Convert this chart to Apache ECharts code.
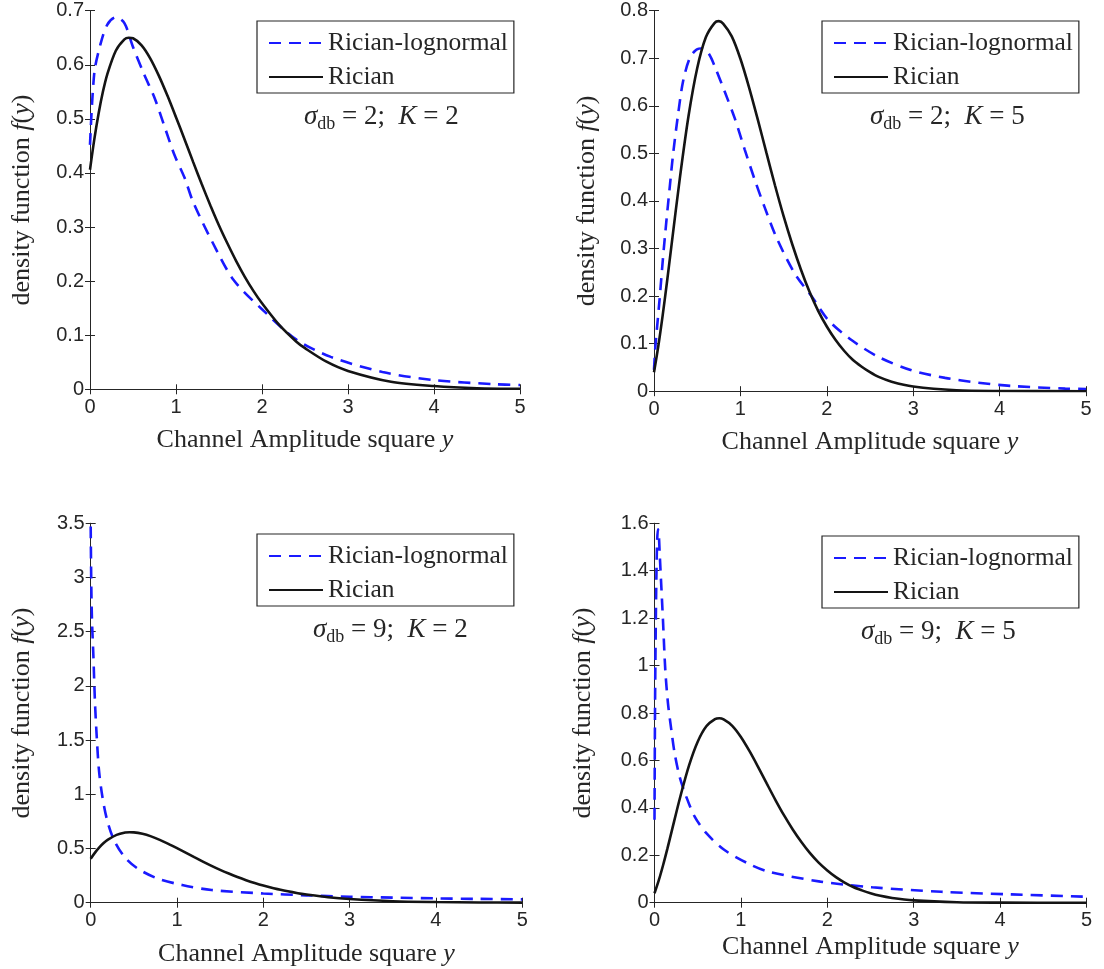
<!DOCTYPE html>
<html><head><meta charset="utf-8">
<script src="https://cdn.jsdelivr.net/npm/echarts@6/dist/echarts.min.js"></script>
<style>html,body{margin:0;padding:0;background:#fff;}#c{width:1104px;height:969px;}</style>
</head><body><div id="c"></div>
<script>
// ---- data ----
const ricianK2X = [0,0.05,0.1,0.15,0.2,0.3,0.4,0.45,0.5,0.6,0.7,0.8,0.9,1.0,1.1,1.2,1.3,1.4,1.5,1.6,1.7,1.8,1.9,2.0,2.2,2.4,2.5,2.75,3.0,3.5,4.0,4.5,5.0];
const ricianK2Y = [0.406,0.462,0.510,0.550,0.582,0.626,0.647,0.650,0.649,0.636,0.612,0.580,0.543,0.503,0.462,0.420,0.379,0.340,0.303,0.269,0.237,0.208,0.182,0.159,0.119,0.088,0.076,0.051,0.034,0.014,0.006,0.002,0.001];
const ricianK5X = [0,0.05,0.1,0.15,0.2,0.3,0.4,0.5,0.6,0.7,0.75,0.8,0.9,1.0,1.1,1.2,1.3,1.4,1.5,1.6,1.7,1.8,1.9,2.0,2.1,2.2,2.3,2.4,2.5,2.6,2.75,3.0,3.5,4.0,5.0];
const ricianK5Y = [0.040,0.095,0.159,0.229,0.303,0.449,0.579,0.679,0.744,0.774,0.778,0.773,0.746,0.699,0.639,0.572,0.502,0.433,0.368,0.309,0.256,0.209,0.169,0.136,0.108,0.085,0.066,0.052,0.040,0.030,0.020,0.010,0.002,0.0004,0];
const rlnS2K2X = [0,0.05,0.12,0.2,0.3,0.4,0.5,0.63,0.75,0.86,0.98,1.1,1.2,1.43,1.67,2.0,2.4,2.8,3.4,4.0,4.7,5.0];
const rlnS2K2Y = [0.452,0.585,0.637,0.674,0.688,0.677,0.633,0.582,0.539,0.489,0.434,0.391,0.346,0.270,0.202,0.148,0.092,0.060,0.032,0.017,0.0095,0.008];
const rlnS2K5X = [0,0.015,0.066,0.104,0.143,0.181,0.22,0.278,0.336,0.413,0.49,0.567,0.64,0.703,0.818,0.934,1.05,1.165,1.28,1.42,1.63,1.83,2.02,2.29,2.6,2.98,3.37,3.75,4.14,4.76,5.0];
const rlnS2K5Y = [0.045,0.091,0.196,0.280,0.357,0.427,0.497,0.581,0.651,0.700,0.718,0.721,0.708,0.683,0.630,0.574,0.508,0.445,0.387,0.322,0.247,0.198,0.149,0.107,0.072,0.044,0.028,0.018,0.011,0.0055,0.0045];
const rlnS9K2X = [0,0.007,0.015,0.03,0.05,0.07,0.096,0.135,0.19,0.27,0.39,0.54,0.77,1.06,1.4,2.0,2.5,3.0,3.5,4.0,4.5,5.0];
const rlnS9K2Y = [3.47,2.92,2.6,2.30,1.84,1.53,1.22,0.98,0.763,0.578,0.424,0.317,0.225,0.163,0.117,0.085,0.068,0.055,0.047,0.040,0.035,0.031];
const rlnS9K5X = [0,0.005,0.01,0.02,0.03,0.04,0.05,0.06,0.079,0.098,0.125,0.156,0.195,0.233,0.291,0.368,0.465,0.6,0.81,1.08,1.32,1.92,2.52,3.32,4.13,5.0];
const rlnS9K5Y = [0.35,0.75,1.0,1.33,1.52,1.575,1.55,1.474,1.333,1.192,0.981,0.841,0.728,0.630,0.531,0.447,0.363,0.293,0.222,0.166,0.131,0.089,0.065,0.046,0.035,0.025];

const panelSigma = [2, 2, 9, 9];
const panelK = [2, 5, 2, 5];
const yMaxes = [0.7, 0.8, 3.5, 1.6];
const yIntervals = [0.1, 0.1, 0.5, 0.2];
const xTickMax = 5, xTickStep = 1;
const seriesNames = ['Rician-lognormal', 'Rician'];
const blueData = [[rlnS2K2X, rlnS2K2Y], [rlnS2K5X, rlnS2K5Y], [rlnS9K2X, rlnS9K2Y], [rlnS9K5X, rlnS9K5Y]];
const blackData = [[ricianK2X, ricianK2Y], [ricianK5X, ricianK5Y], [ricianK2X, ricianK2Y], [ricianK5X, ricianK5Y]];

// ---- layout / style ----
const zip = (xs, ys) => xs.map((x, i) => [x, ys[i]]);
const AX = '#262626';
const SERIF = '"Liberation Serif", "Times New Roman", serif';
const SANS = '"Liberation Sans", Arial, Helvetica, sans-serif';
const grids = [
  {left: 90, top: 10.7, width: 430, height: 378.6},
  {left: 654, top: 10.7, width: 432, height: 380.5},
  {left: 90.7, top: 523.3, width: 431.5, height: 379.4},
  {left: 654.5, top: 523.3, width: 432, height: 379.4}
];
const xNameGap = [38, 38, 38, 31];
const yNameGap = [55, 54, 56, 58];
const legendPos = [{left: 257, top: 21}, {left: 822, top: 21}, {left: 257, top: 534}, {left: 822, top: 536}];
const annPos = [[304, 117], [870, 117], [313, 630], [861, 632]];

const xAxes = [], yAxes = [], series = [], legends = [], graphics = [];
const tick = {show: true, inside: true, length: 5, lineStyle: {color: AX, width: 1}};
const line = {show: true, lineStyle: {color: AX, width: 1}};
const nameRich = {i: {fontStyle: 'italic', fontFamily: SERIF, fontSize: 26, color: AX}};

grids.forEach((g, i) => {
  xAxes.push({
    type: 'value', gridIndex: i, min: 0, max: xTickMax, interval: xTickStep, position: 'bottom',
    axisLine: line, axisTick: tick, splitLine: {show: false},
    axisLabel: {fontFamily: SANS, fontSize: 20, color: AX, margin: 8},
    name: 'Channel Amplitude square {i|y}', nameLocation: 'middle', nameGap: xNameGap[i],
    nameTextStyle: {fontFamily: SERIF, fontSize: 26, color: AX, rich: nameRich}
  });
  xAxes.push({
    type: 'value', gridIndex: i, min: 0, max: xTickMax, interval: xTickStep, position: 'top',
    axisLine: line, axisTick: tick, splitLine: {show: false}, axisLabel: {show: false}
  });
  yAxes.push({
    type: 'value', gridIndex: i, min: 0, max: yMaxes[i], interval: yIntervals[i], position: 'left',
    axisLine: line, axisTick: tick, splitLine: {show: false},
    axisLabel: {fontFamily: SANS, fontSize: 20, color: AX, margin: 6},
    name: 'density function {i|f}({i|y})', nameLocation: 'middle', nameGap: yNameGap[i],
    nameTextStyle: {fontFamily: SERIF, fontSize: 26, color: AX, rich: nameRich}
  });
  yAxes.push({
    type: 'value', gridIndex: i, min: 0, max: yMaxes[i], interval: yIntervals[i], position: 'right',
    axisLine: line, axisTick: tick, splitLine: {show: false}, axisLabel: {show: false}
  });
  series.push({
    name: seriesNames[0], type: 'line', xAxisIndex: 2 * i, yAxisIndex: 2 * i,
    data: zip(blueData[i][0], blueData[i][1]), symbol: 'none', smooth: 0.3,
    lineStyle: {color: '#1a1aff', width: 2.6, type: [12, 8]}, itemStyle: {color: '#1a1aff'}, animation: false
  });
  series.push({
    name: seriesNames[1], type: 'line', xAxisIndex: 2 * i, yAxisIndex: 2 * i,
    data: zip(blackData[i][0], blackData[i][1]), symbol: 'none', smooth: 0.3,
    lineStyle: {color: '#141414', width: 2.6, type: 'solid'}, itemStyle: {color: '#141414'}, animation: false
  });
  legends.push({
    left: legendPos[i].left, top: legendPos[i].top, orient: 'vertical',
    data: seriesNames, itemWidth: 54, itemHeight: 14, itemGap: 8,
    borderColor: AX, borderWidth: 1.2, padding: [9, 6, 3, 11], backgroundColor: '#fff',
    itemStyle: {opacity: 0},
    textStyle: {fontFamily: SERIF, fontSize: 25.5, color: AX}, selectedMode: false
  });
  graphics.push({
    type: 'text', x: annPos[i][0], y: annPos[i][1], z: 100,
    style: {
      text: '{i|σ}{s|db}{n| = ' + panelSigma[i] + ';  }{i|K}{n| = ' + panelK[i] + '}',
      verticalAlign: 'middle', fill: AX,
      rich: {
        i: {fontFamily: SERIF, fontStyle: 'italic', fontSize: 27, color: AX, verticalAlign: 'middle', lineHeight: 32},
        n: {fontFamily: SERIF, fontSize: 27, color: AX, verticalAlign: 'middle', lineHeight: 32},
        s: {fontFamily: SERIF, fontSize: 18, color: AX, verticalAlign: 'bottom', lineHeight: 32}
      }
    }
  });
});

const chart = echarts.init(document.getElementById('c'));
chart.setOption({
  backgroundColor: '#fff', animation: false,
  grid: grids, xAxis: xAxes, yAxis: yAxes, series: series, legend: legends, graphic: graphics
});
</script></body></html>
